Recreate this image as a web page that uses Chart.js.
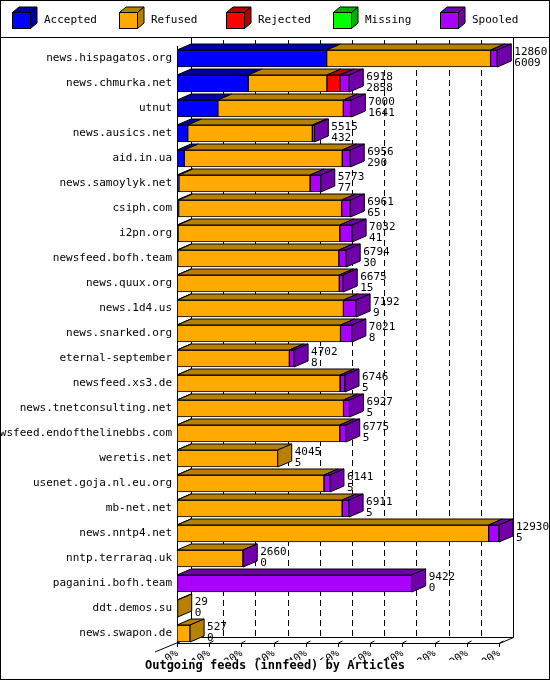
<!DOCTYPE html>
<html><head><meta charset="utf-8">
<script src="https://cdn.jsdelivr.net/npm/chart.js@4/dist/chart.umd.min.js"></script>
<style>html,body{margin:0;padding:0;background:#fff}#w{width:550px;height:680px}</style>
</head><body><div id="w"><canvas id="c"></canvas></div>
<script>
const feeds=["news.hispagatos.org","news.chmurka.net","utnut","news.ausics.net","aid.in.ua","news.samoylyk.net","csiph.com","i2pn.org","newsfeed.bofh.team","news.quux.org","news.1d4.us","news.snarked.org","eternal-september","newsfeed.xs3.de","news.tnetconsulting.net","newsfeed.endofthelinebbs.com","weretis.net","usenet.goja.nl.eu.org","mb-net.net","news.nntp4.net","nntp.terraraq.uk","paganini.bofh.team","ddt.demos.su","news.swapon.de"];
const totals=[12860,6918,7000,5515,6956,5773,6961,7032,6794,6675,7192,7021,4702,6746,6927,6775,4045,6141,6911,12930,2660,9422,29,527];
const accepted=[6009,2858,1641,432,290,77,65,41,30,15,9,8,8,5,5,5,5,5,5,5,0,0,0,0];
const refused=[6583,3162,5039,5003,6346,5266,6546,6495,6469,6500,6673,6558,4504,6541,6682,6530,4040,5896,6626,12510,2650,0,29,527];
const rejected=[0,523,0,0,0,0,0,0,0,0,0,0,0,0,0,0,0,0,0,0,0,0,0,0];
const missing=[0,0,0,0,0,0,0,0,0,0,0,0,0,0,0,0,0,0,0,0,0,0,0,0];
const spooled=[268,375,320,80,320,430,350,496,295,160,510,455,190,200,240,240,0,240,280,415,10,9422,0,0];
const seriesNames=["Accepted","Refused","Rejected","Missing","Spooled"];
const front=["#0000ff","#ffaa00","#ff0000","#00ff00","#aa00ff"];
const dark=["#0000a8","#b88000","#b00000","#00b000","#7000a8"];
const xMax=12930, DX=14, DY=-6, FONT='11px "DejaVu Sans Mono"';

const threeD={id:'threeD',
 beforeDatasetsDraw(ch){
  const c=ch.ctx,a=ch.chartArea,xs=ch.scales.x;
  const yf=643,yb=yf+DY;
  c.save();c.strokeStyle='#000';c.lineWidth=1;
  // border & legend separator
  c.strokeRect(0.5,0.5,549,679);
  c.beginPath();c.moveTo(0,37.5);c.lineTo(550,37.5);c.stroke();
  // back wall grid
  c.setLineDash([6,4]);
  for(let k=1;k<=9;k++){const x=Math.round(xs.getPixelForValue(xMax*k/10))+DX+0.5;
   c.beginPath();c.moveTo(x,40);c.lineTo(x,yb);c.stroke();}
  c.setLineDash([]);
  const x0=xs.getPixelForValue(0),x1=xs.getPixelForValue(xMax);
  c.beginPath();
  c.moveTo(x0+DX+0.5,38);c.lineTo(x0+DX+0.5,yb+0.5);c.lineTo(x1+DX+0.5,yb+0.5);
  c.moveTo(x1+DX+0.5,38);c.lineTo(x1+DX+0.5,yb+0.5);c.lineTo(x1+0.5,yf+0.5);c.lineTo(x0+0.5,yf+0.5);
  c.moveTo(x0+0.5,46);c.lineTo(x0+0.5,yf+0.5);
  c.moveTo(x0+DX,yb);c.lineTo(x0-22,yf+9);
  c.stroke();
  for(let k=0;k<=10;k++){const x=Math.round(xs.getPixelForValue(xMax*k/10))+0.5;
   c.beginPath();c.moveTo(x,yf+4);c.lineTo(x,yf);c.lineTo(x+4,yf-2);c.stroke();}
  c.restore();
 },
 afterDatasetsDraw(ch){
  const c=ch.ctx;c.save();c.strokeStyle='#000';c.lineWidth=1;
  const n=feeds.length;
  for(let i=0;i<n;i++){
   let last=-1,endX=null,top=0,bot=0;
   for(let d=0;d<5;d++){
    const el=ch.getDatasetMeta(d).data[i];const p=el.getProps(['x','y','base','height'],true);
    top=p.y-p.height/2;bot=p.y+p.height/2;
    if(ch.data.datasets[d].data[i]>0){
     c.fillStyle=dark[d];c.beginPath();
     c.moveTo(p.base,top);c.lineTo(p.x,top);c.lineTo(p.x+DX,top+DY);c.lineTo(p.base+DX,top+DY);c.closePath();c.fill();c.stroke();
     last=d;endX=p.x;}
   }
   if(last>=0){
    c.fillStyle=dark[last];c.beginPath();
    c.moveTo(endX,top);c.lineTo(endX+DX,top+DY);c.lineTo(endX+DX,bot+DY);c.lineTo(endX,bot);c.closePath();c.fill();c.stroke();
   } else {endX=ch.scales.x.getPixelForValue(0);}
   const yc=(top+bot)/2;
   c.fillStyle='#000';c.font=FONT;c.textAlign='left';c.textBaseline='middle';
   c.fillText(String(totals[i]),endX+DX+3,yc-6);
   c.fillText(String(accepted[i]),endX+DX+3,yc+5);
  }
  // legend
  const lx=[12,119,226,333,440];
  for(let d=0;d<5;d++){
   const x=lx[d],y=12,w=18,h=16,dd=7;
   c.fillStyle=front[d];c.fillRect(x,y,w,h);c.strokeRect(x+0.5,y+0.5,w,h);
   c.fillStyle=dark[d];c.beginPath();c.moveTo(x+0.5,y+0.5);c.lineTo(x+dd,y-5);c.lineTo(x+w+dd,y-5);c.lineTo(x+w+0.5,y+0.5);c.closePath();c.fill();c.stroke();
   c.beginPath();c.moveTo(x+w+0.5,y+0.5);c.lineTo(x+w+dd,y-5);c.lineTo(x+w+dd,y+h-5);c.lineTo(x+w+0.5,y+h+0.5);c.closePath();c.fill();c.stroke();
   c.fillStyle='#000';c.font=FONT;c.textAlign='left';c.textBaseline='middle';
   c.fillText(seriesNames[d],x+32,20);
  }
  c.font='bold 12px "DejaVu Sans Mono"';c.textAlign='center';
  c.fillText('Outgoing feeds (innfeed) by Articles',275,666);
  c.restore();
 }};

const series=[accepted,refused,rejected,missing,spooled];
new Chart(document.getElementById('c'),{type:'bar',
 data:{labels:feeds,datasets:series.map((s,d)=>({label:seriesNames[d],data:s,backgroundColor:front[d],borderColor:'#000',borderWidth:1,borderSkipped:false,barThickness:17}))},
 options:{indexAxis:'y',responsive:true,maintainAspectRatio:false,animation:false,
  layout:{padding:{top:46,right:51,bottom:20,left:0}},
  plugins:{legend:{display:false},tooltip:{enabled:false},title:{display:false}},
  scales:{
   y:{stacked:true,grid:{display:false,drawTicks:false},border:{display:false},
      afterFit:s=>{s.width=177;},
      ticks:{color:'#000',font:{family:'DejaVu Sans Mono',size:11},padding:5,autoSkip:false}},
   x:{stacked:true,min:0,max:xMax,grid:{display:false,drawTicks:false},border:{display:false},
      afterFit:s=>{s.height=14;},
      ticks:{stepSize:xMax/10,color:'#000',font:{family:'DejaVu Sans Mono',size:11},padding:1,
       callback:(v)=>Math.round(v/xMax*10)*10+'%'}}}},
 plugins:[threeD]});
</script></body></html>
